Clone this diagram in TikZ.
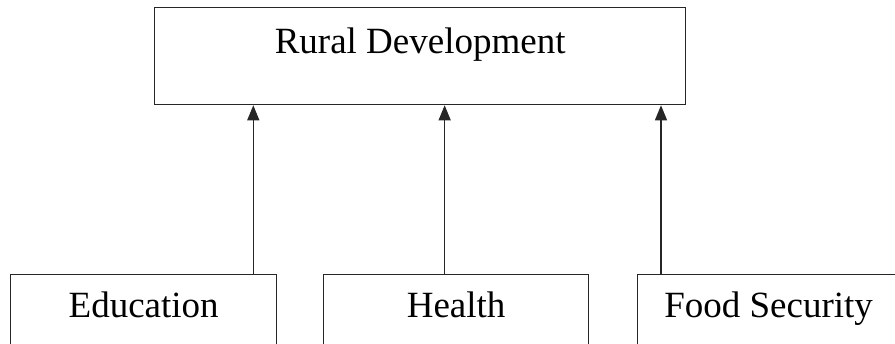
\documentclass[tikz,border=0pt]{standalone}
\usepackage{fontspec}
\setmainfont{Liberation Serif}
\usetikzlibrary{arrows.meta,calc}
\begin{document}
\begin{tikzpicture}[x=1pt,y=1pt,
  box/.style={draw=black!85, line width=1.3pt, inner xsep=0pt, inner ysep=0pt,
    font=\fontsize{37}{40}\selectfont, anchor=north west},
  topbox/.style={box, minimum width=531pt, text height=46pt, text depth=51pt},
  lowbox/.style={box, text height=43pt, text depth=46pt},
  conn/.style={draw=black!85, line width=1.3pt, -{Triangle[length=15pt,width=12pt]}}]
\useasboundingbox (0,0) rectangle (895,343);
\clip (0,0) rectangle (895,343);
\node[topbox] (rd) at (154,336) {Rural Development};
\node[lowbox, minimum width=266pt] (edu) at (10,69) {Education};
\node[lowbox, minimum width=265pt] (hl) at (323,69) {Health};
\node[lowbox, minimum width=262pt] (fs) at (637,69) {Food Security};
\draw[conn] ([xshift=-24pt]edu.north east) -- ([xshift=-24pt]edu.north east |- rd.south);
\draw[conn] ([xshift=-11.5pt]hl.north) -- ([xshift=-11.5pt]hl.north |- rd.south);
\draw[conn] ([xshift=24pt]fs.north west) -- ([xshift=24pt]fs.north west |- rd.south);
\end{tikzpicture}
\end{document}
